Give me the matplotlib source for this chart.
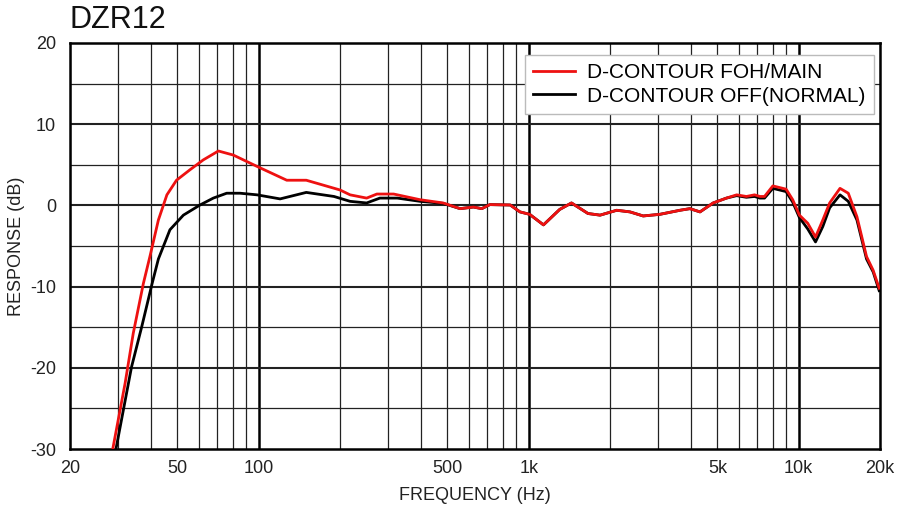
import matplotlib
matplotlib.use('Agg')
from matplotlib import pyplot as plt
from matplotlib.ticker import FixedLocator, NullFormatter

plt.rcParams['font.family'] = ['Liberation Sans', 'DejaVu Sans']
plt.rcParams['axes.unicode_minus'] = False

# D-CONTOUR FOH/MAIN
freq_foh = [28.8, 32.0, 34.3, 37.4, 39.6, 42.5, 45.7, 49.6, 55.7, 62.3, 70.9, 80.5, 98.6,
            127, 150, 200, 218, 251, 274, 316, 396, 482, 557, 624, 670, 718, 854, 928,
            1008, 1134, 1302, 1440, 1658, 1838, 2118, 2371, 2654, 3060, 3632, 3952, 4309,
            4820, 5400, 5890, 6400, 6860, 7180, 7470, 8020, 8980, 9500, 10060, 10800, 11540,
            12280, 13020, 14220, 15260, 16430, 17830, 18870, 19860]
resp_foh = [-30, -21.9, -15.75, -9.6, -6.2, -1.8, 1.3, 3.1, 4.4, 5.6, 6.7, 6.2, 4.8,
            3.1, 3.1, 1.9, 1.3, 0.9, 1.4, 1.4, 0.7, 0.3, -0.4, -0.2, -0.4, 0.1, 0.05, -0.8,
            -1.1, -2.4, -0.5, 0.3, -1.0, -1.2, -0.6, -0.8, -1.3, -1.1, -0.6, -0.4, -0.8,
            0.3, 0.9, 1.3, 1.1, 1.3, 1.1, 1.1, 2.4, 2.0, 0.7, -1.2, -2.2, -3.9,
            -1.8, 0.3, 2.1, 1.5, -1.4, -6.3, -8.0, -10.2]

# D-CONTOUR OFF(NORMAL)
freq_off = [29.6, 33.8, 36.9, 40.3, 42.5, 46.9, 52.6, 60.6, 67.9, 76.1, 85.3, 98.6, 120,
            150, 190, 218, 251, 281, 326, 396, 482, 557, 624, 670, 718, 854, 928, 1008,
            1134, 1302, 1440, 1658, 1838, 2118, 2371, 2654, 3060, 3632, 3952, 4309, 4820,
            5400, 5890, 6400, 6860, 7180, 7470, 8020, 8980, 9500, 10060, 10800, 11540,
            12280, 13020, 14220, 15260, 16430, 17830, 18870, 19860]
resp_off = [-30, -19.9, -14.9, -9.6, -6.6, -3.0, -1.2, 0.05, 0.9, 1.5, 1.5, 1.3, 0.8,
            1.6, 1.1, 0.5, 0.3, 0.9, 0.9, 0.5, 0.25, -0.4, -0.2, -0.4, 0.1, 0.05, -0.8, -1.1,
            -2.4, -0.5, 0.3, -1.0, -1.2, -0.6, -0.8, -1.3, -1.1, -0.6, -0.4, -0.8, 0.3,
            0.9, 1.2, 1.0, 1.1, 0.9, 0.9, 2.1, 1.7, 0.4, -1.5, -2.9, -4.5,
            -2.6, -0.3, 1.3, 0.5, -1.8, -6.6, -8.2, -10.5]

xtick_vals = [20, 50, 100, 500, 1000, 5000, 10000, 20000]
xtick_labels = ['20', '50', '100', '500', '1k', '5k', '10k', '20k']
ytick_vals = [-30, -20, -10, 0, 10, 20]

fig = plt.figure(figsize=(9, 5.09), dpi=100)
ax = fig.add_axes([70 / 900, 1 - 449 / 509, 810 / 900, 406 / 509])
ax.set_xscale('log')
ax.set_xlim(20, 20000)
ax.set_ylim(-30, 20)

# grid
minor_f = [m * 10 ** e for e in (1, 2, 3) for m in range(2, 10)] + [20000]
for f in minor_f:
    ax.axvline(f, color='#222222', lw=0.9, zorder=1)
for f in (100, 1000, 10000):
    ax.axvline(f, color='black', lw=1.8, zorder=1)
for y in range(-25, 20, 5):
    ax.axhline(y, color='#222222', lw=1.5 if y % 10 == 0 else 0.9, zorder=1)

ax.plot(freq_off, resp_off, color='black', lw=2.0, zorder=3, label='D-CONTOUR OFF(NORMAL)')
ax.plot(freq_foh, resp_foh, color='#ee1111', lw=2.0, zorder=4, label='D-CONTOUR FOH/MAIN')

ax.xaxis.set_major_locator(FixedLocator(xtick_vals))
ax.xaxis.set_minor_formatter(NullFormatter())
ax.set_xticks(xtick_vals)
ax.set_xticklabels(xtick_labels)
ax.set_yticks(ytick_vals)
ax.tick_params(which='both', length=0, labelsize=13, colors='#222222', pad=8)
ax.tick_params(axis='y', pad=10)
for s in ax.spines.values():
    s.set_linewidth(1.8)

ax.set_xlabel('FREQUENCY (Hz)', fontsize=13, color='#222222', labelpad=7)
ax.set_ylabel('RESPONSE (dB)', fontsize=13, color='#222222', labelpad=4)

h, l = ax.get_legend_handles_labels()
leg = ax.legend(h[::-1], l[::-1], loc='upper right', bbox_to_anchor=(0.9926, 0.9704),
                borderaxespad=0, fontsize=15, frameon=True, fancybox=False, framealpha=1,
                handlelength=2.0, handletextpad=0.6, borderpad=0.4, labelspacing=0.2)
leg.get_frame().set_edgecolor('#bbbbbb')
leg.get_frame().set_linewidth(1.0)

fig.text(70 / 900, 1 - 20 / 509, 'DZR12', fontsize=22, va='center', ha='left', color='#111111')

plt.savefig('out.png', dpi=100)
